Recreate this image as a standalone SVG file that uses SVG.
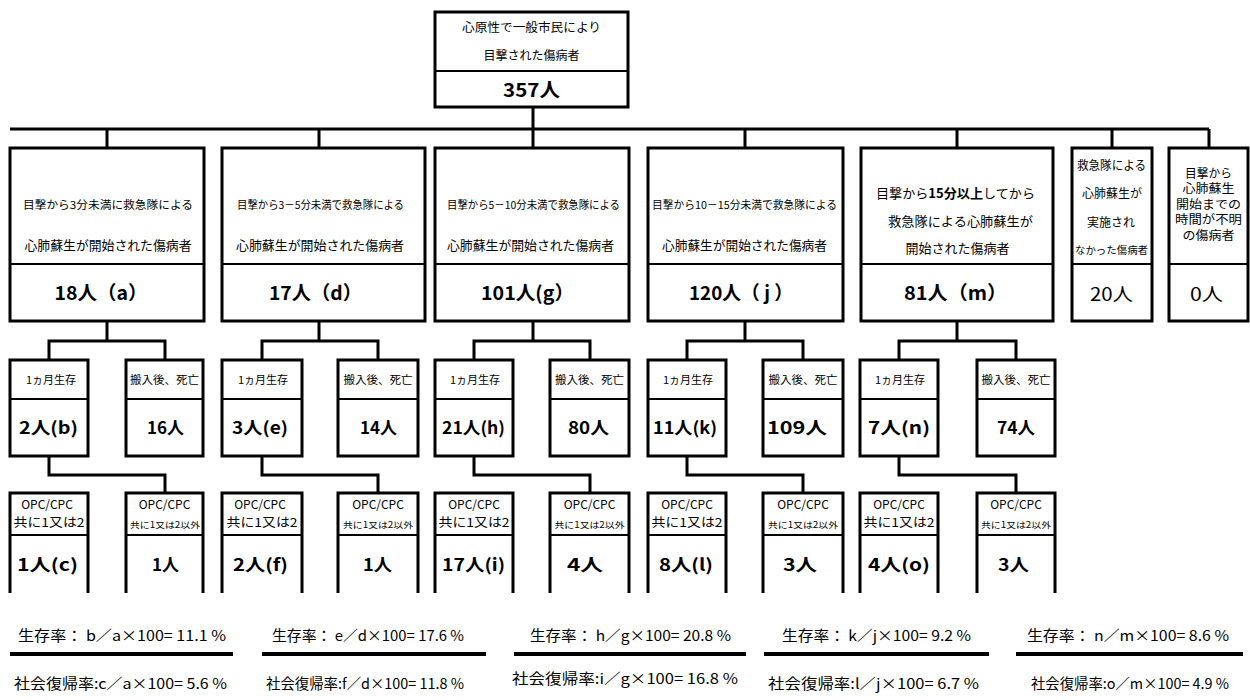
<svg xmlns="http://www.w3.org/2000/svg" width="1250" height="700" viewBox="0 0 1250 700">
<style>
text{font-family:"Noto Sans CJK JP","Noto Sans",sans-serif;fill:#000;text-anchor:middle}
.box{fill:#fff;stroke:#000;stroke-width:3}
.div{stroke:#000;stroke-width:2;fill:none}
.con{stroke:#000;stroke-width:3;fill:none}
.bar{stroke:#000;stroke-width:4;fill:none}
.t11{font-size:11px}
.t12{font-size:12px}
.t13{font-size:13px}
.t9{font-size:8.5px}
.n18{font-size:19px;font-weight:bold}
.n16{font-size:17px;font-weight:bold}
.n18r{font-size:18px}
.st{font-size:14.5px;text-anchor:start}
.u{font-size:12px}
</style>
<rect width="1250" height="700" fill="#fff"/>

<g id="connectors">
<path class="con" d="M533,107 V129 M10,129 H1209 M107,129 V148 M319,129 V148 M533,129 V148 M745,129 V148 M957,129 V148 M1112,129 V148 M1209,129 V148"/>
<path class="con" d="M107,321 V341 M49,360 V341 H165 V360 M49,456 V475 H165 V493"/>
<path class="con" d="M319,321 V341 M262,360 V341 H378 V360 M262,456 V475 H378 V493"/>
<path class="con" d="M533,321 V341 M474,360 V341 H590 V360 M474,456 V475 H590 V493"/>
<path class="con" d="M745,321 V341 M687,360 V341 H803 V360 M687,456 V475 H803 V493"/>
<path class="con" d="M957,321 V341 M899,360 V341 H1016 V360 M899,456 V475 H1016 V493"/>
</g>

<g id="root">
<rect class="box" x="435" y="12" width="193" height="95"/>
<line class="div" x1="435" y1="71" x2="628" y2="71"/>
<text class="t12" x="531.5" y="31.5" textLength="139" lengthAdjust="spacingAndGlyphs">心原性で一般市民により</text>
<text class="t12" x="531.5" y="59.5">目撃された傷病者</text>
<text class="n18" x="531.5" y="97" font-size="20" textLength="57" lengthAdjust="spacingAndGlyphs">357人</text>
</g>

<g id="col-a">
<rect class="box" x="10" y="148" width="194" height="173"/>
<line class="div" x1="10" y1="264" x2="204" y2="264"/>
<text class="t11" x="108" y="209" textLength="170" lengthAdjust="spacingAndGlyphs">目撃から3分未満に救急隊による</text>
<text class="t13" x="108" y="249.5" textLength="167" lengthAdjust="spacingAndGlyphs">心肺蘇生が開始された傷病者</text>
<text class="n18" x="101" y="300" textLength="93" lengthAdjust="spacingAndGlyphs">18人（a）</text>
</g>
<g id="col-d">
<rect class="box" x="222" y="148" width="203" height="173"/>
<line class="div" x1="222" y1="264" x2="425" y2="264"/>
<text class="t11" x="320.5" y="209" textLength="167" lengthAdjust="spacingAndGlyphs">目撃から3－5分未満で救急隊による</text>
<text class="t13" x="320" y="249.5" textLength="168" lengthAdjust="spacingAndGlyphs">心肺蘇生が開始された傷病者</text>
<text class="n18" x="315.5" y="300" textLength="93" lengthAdjust="spacingAndGlyphs">17人（d）</text>
</g>
<g id="col-g">
<rect class="box" x="435" y="148" width="194" height="173"/>
<line class="div" x1="435" y1="264" x2="629" y2="264"/>
<text class="t11" x="533.5" y="209" textLength="173" lengthAdjust="spacingAndGlyphs">目撃から5－10分未満で救急隊による</text>
<text class="t13" x="530.5" y="249.5" textLength="167" lengthAdjust="spacingAndGlyphs">心肺蘇生が開始された傷病者</text>
<text class="n18" x="527.5" y="300" textLength="93" lengthAdjust="spacingAndGlyphs">101人(g）</text>
</g>
<g id="col-j">
<rect class="box" x="648" y="148" width="195" height="173"/>
<line class="div" x1="648" y1="264" x2="843" y2="264"/>
<text class="t11" x="744.5" y="209" textLength="185" lengthAdjust="spacingAndGlyphs">目撃から10－15分未満で救急隊による</text>
<text class="t13" x="744.5" y="249.5" textLength="165" lengthAdjust="spacingAndGlyphs">心肺蘇生が開始された傷病者</text>
<text class="n18" x="741" y="300" textLength="104" lengthAdjust="spacingAndGlyphs">120人（ j ）</text>
</g>
<g id="col-m">
<rect class="box" x="861" y="148" width="192" height="173"/>
<line class="div" x1="861" y1="264" x2="1053" y2="264"/>
<text class="t13" x="955.5" y="197.5" textLength="159" lengthAdjust="spacingAndGlyphs">目撃から<tspan font-weight="bold">15分以上</tspan>してから</text>
<text class="t13" x="960.5" y="225.5" textLength="145" lengthAdjust="spacingAndGlyphs">救急隊による心肺蘇生が</text>
<text class="t13" x="957.5" y="252.5">開始された傷病者</text>
<text class="n18" x="955.5" y="300" textLength="103" lengthAdjust="spacingAndGlyphs">81人（m）</text>
</g>
<g id="col-none">
<rect class="box" x="1072" y="148" width="80" height="173"/>
<line class="div" x1="1072" y1="264" x2="1152" y2="264"/>
<text class="t12" x="1111.5" y="169.5" textLength="69" lengthAdjust="spacingAndGlyphs">救急隊による</text>
<text class="t12" x="1112" y="197.5">心肺蘇生が</text>
<text class="t12" x="1111" y="226.5">実施され</text>
<text x="1111.5" y="253.5" font-size="10" textLength="73" lengthAdjust="spacingAndGlyphs">なかった傷病者</text>
<text class="n18r" x="1111.5" y="301" textLength="43" lengthAdjust="spacingAndGlyphs">20人</text>
</g>
<g id="col-unknown">
<rect class="box" x="1169" y="148" width="79" height="173"/>
<line class="div" x1="1169" y1="264" x2="1248" y2="264"/>
<text class="u" x="1208.5" y="177.5" textLength="47" lengthAdjust="spacingAndGlyphs">目撃から</text>
<text class="u" x="1208.5" y="193" textLength="52" lengthAdjust="spacingAndGlyphs">心肺蘇生</text>
<text class="u" x="1208.5" y="208.5" textLength="65" lengthAdjust="spacingAndGlyphs">開始までの</text>
<text class="u" x="1208.5" y="224" textLength="67" lengthAdjust="spacingAndGlyphs">時間が不明</text>
<text class="u" x="1208.5" y="239.5" textLength="52" lengthAdjust="spacingAndGlyphs">の傷病者</text>
<text class="n18r" x="1206.5" y="301" textLength="33" lengthAdjust="spacingAndGlyphs">0人</text>
</g>

<g id="sub-a">
<g id="a-surv"><rect class="box" x="10" y="360" width="78" height="96"/><line class="div" x1="10" y1="399" x2="88" y2="399"/>
<text class="t11" x="51" y="384">1ヵ月生存</text><text class="n16" x="48.5" y="434" textLength="59" lengthAdjust="spacingAndGlyphs">2人(b)</text></g>
<g id="a-dead"><rect class="box" x="126" y="360" width="77" height="96"/><line class="div" x1="126" y1="399" x2="203" y2="399"/>
<text class="t11" x="164.5" y="384" textLength="69" lengthAdjust="spacingAndGlyphs">搬入後、死亡</text><text class="n16" x="165.5" y="434" textLength="37" lengthAdjust="spacingAndGlyphs">16人</text></g>
<g id="a-good"><path class="con" d="M10,593 V493 H88 V593"/><line class="div" x1="10" y1="535" x2="88" y2="535"/>
<text class="t12" x="47" y="509">OPC/CPC</text><text class="t12" x="49" y="527" textLength="71" lengthAdjust="spacingAndGlyphs">共に1又は2</text><text class="n16" x="47.5" y="571" textLength="61" lengthAdjust="spacingAndGlyphs">1人(c)</text></g>
<g id="a-other"><path class="con" d="M126,593 V493 H203 V593"/><line class="div" x1="126" y1="535" x2="203" y2="535"/>
<text class="t12" x="164.5" y="509">OPC/CPC</text><text class="t9" x="165" y="528" textLength="70" lengthAdjust="spacingAndGlyphs">共に1又は2以外</text><text class="n16" x="165.5" y="571" textLength="27" lengthAdjust="spacingAndGlyphs">1人</text></g>
</g>

<g id="sub-d">
<g id="d-surv"><rect class="box" x="222" y="360" width="80" height="96"/><line class="div" x1="222" y1="399" x2="302" y2="399"/>
<text class="t11" x="263" y="384">1ヵ月生存</text><text class="n16" x="260" y="434" textLength="56" lengthAdjust="spacingAndGlyphs">3人(e)</text></g>
<g id="d-dead"><rect class="box" x="338" y="360" width="80" height="96"/><line class="div" x1="338" y1="399" x2="418" y2="399"/>
<text class="t11" x="378" y="384" textLength="69" lengthAdjust="spacingAndGlyphs">搬入後、死亡</text><text class="n16" x="378.5" y="434" textLength="37" lengthAdjust="spacingAndGlyphs">14人</text></g>
<g id="d-good"><path class="con" d="M222,593 V493 H302 V593"/><line class="div" x1="222" y1="535" x2="302" y2="535"/>
<text class="t12" x="260" y="509">OPC/CPC</text><text class="t12" x="262" y="527" textLength="71" lengthAdjust="spacingAndGlyphs">共に1又は2</text><text class="n16" x="260.5" y="571" textLength="55" lengthAdjust="spacingAndGlyphs">2人(f)</text></g>
<g id="d-other"><path class="con" d="M338,593 V493 H418 V593"/><line class="div" x1="338" y1="535" x2="418" y2="535"/>
<text class="t12" x="378" y="509">OPC/CPC</text><text class="t9" x="378" y="528" textLength="70" lengthAdjust="spacingAndGlyphs">共に1又は2以外</text><text class="n16" x="377.5" y="571" textLength="29" lengthAdjust="spacingAndGlyphs">1人</text></g>
</g>

<g id="sub-g">
<g id="g-surv"><rect class="box" x="435" y="360" width="78" height="96"/><line class="div" x1="435" y1="399" x2="513" y2="399"/>
<text class="t11" x="475" y="384">1ヵ月生存</text><text class="n16" x="473.5" y="434" textLength="63" lengthAdjust="spacingAndGlyphs">21人(h)</text></g>
<g id="g-dead"><rect class="box" x="550" y="360" width="79" height="96"/><line class="div" x1="550" y1="399" x2="629" y2="399"/>
<text class="t11" x="589.5" y="384" textLength="69" lengthAdjust="spacingAndGlyphs">搬入後、死亡</text><text class="n16" x="588.5" y="434" textLength="41" lengthAdjust="spacingAndGlyphs">80人</text></g>
<g id="g-good"><path class="con" d="M435,593 V493 H513 V593"/><line class="div" x1="435" y1="535" x2="513" y2="535"/>
<text class="t12" x="474" y="509">OPC/CPC</text><text class="t12" x="474" y="527" textLength="71" lengthAdjust="spacingAndGlyphs">共に1又は2</text><text class="n16" x="473.5" y="571" textLength="63" lengthAdjust="spacingAndGlyphs">17人(i)</text></g>
<g id="g-other"><path class="con" d="M550,593 V493 H629 V593"/><line class="div" x1="550" y1="535" x2="629" y2="535"/>
<text class="t12" x="589.5" y="509">OPC/CPC</text><text class="t9" x="589.5" y="528" textLength="70" lengthAdjust="spacingAndGlyphs">共に1又は2以外</text><text class="n16" x="585" y="571" textLength="36" lengthAdjust="spacingAndGlyphs">4人</text></g>
</g>

<g id="sub-j">
<g id="j-surv"><rect class="box" x="648" y="360" width="78" height="96"/><line class="div" x1="648" y1="399" x2="726" y2="399"/>
<text class="t11" x="688" y="384">1ヵ月生存</text><text class="n16" x="685" y="434" textLength="64" lengthAdjust="spacingAndGlyphs">11人(k)</text></g>
<g id="j-dead"><rect class="box" x="763" y="360" width="80" height="96"/><line class="div" x1="763" y1="399" x2="843" y2="399"/>
<text class="t11" x="803" y="384" textLength="69" lengthAdjust="spacingAndGlyphs">搬入後、死亡</text><text class="n16" x="797" y="434" textLength="60" lengthAdjust="spacingAndGlyphs">109人</text></g>
<g id="j-good"><path class="con" d="M648,593 V493 H726 V593"/><line class="div" x1="648" y1="535" x2="726" y2="535"/>
<text class="t12" x="687" y="509">OPC/CPC</text><text class="t12" x="687" y="527" textLength="71" lengthAdjust="spacingAndGlyphs">共に1又は2</text><text class="n16" x="686" y="571" textLength="54" lengthAdjust="spacingAndGlyphs">8人(l)</text></g>
<g id="j-other"><path class="con" d="M763,593 V493 H843 V593"/><line class="div" x1="763" y1="535" x2="843" y2="535"/>
<text class="t12" x="803" y="509">OPC/CPC</text><text class="t9" x="803" y="528" textLength="70" lengthAdjust="spacingAndGlyphs">共に1又は2以外</text><text class="n16" x="800" y="571" textLength="34" lengthAdjust="spacingAndGlyphs">3人</text></g>
</g>

<g id="sub-m">
<g id="m-surv"><rect class="box" x="860" y="360" width="78" height="96"/><line class="div" x1="860" y1="399" x2="938" y2="399"/>
<text class="t11" x="900" y="384">1ヵ月生存</text><text class="n16" x="899" y="434" textLength="62" lengthAdjust="spacingAndGlyphs">7人(n)</text></g>
<g id="m-dead"><rect class="box" x="977" y="360" width="78" height="96"/><line class="div" x1="977" y1="399" x2="1055" y2="399"/>
<text class="t11" x="1016" y="384" textLength="69" lengthAdjust="spacingAndGlyphs">搬入後、死亡</text><text class="n16" x="1016" y="434" textLength="38" lengthAdjust="spacingAndGlyphs">74人</text></g>
<g id="m-good"><path class="con" d="M860,593 V493 H938 V593"/><line class="div" x1="860" y1="535" x2="938" y2="535"/>
<text class="t12" x="899" y="509">OPC/CPC</text><text class="t12" x="899" y="527" textLength="71" lengthAdjust="spacingAndGlyphs">共に1又は2</text><text class="n16" x="899" y="571" textLength="62" lengthAdjust="spacingAndGlyphs">4人(o)</text></g>
<g id="m-other"><path class="con" d="M977,593 V493 H1055 V593"/><line class="div" x1="977" y1="535" x2="1055" y2="535"/>
<text class="t12" x="1016" y="509">OPC/CPC</text><text class="t9" x="1016" y="528" textLength="70" lengthAdjust="spacingAndGlyphs">共に1又は2以外</text><text class="n16" x="1013.5" y="571" textLength="31" lengthAdjust="spacingAndGlyphs">3人</text></g>
</g>

<g id="stats">
<text class="st" x="18" y="641" textLength="208" lengthAdjust="spacingAndGlyphs">生存率： b／a×100= 11.1 %</text>
<line class="bar" x1="10" y1="654" x2="233" y2="654"/>
<text class="st" x="14" y="689" textLength="213" lengthAdjust="spacingAndGlyphs">社会復帰率:c／a×100= 5.6 %</text>

<text class="st" x="272" y="641" textLength="192" lengthAdjust="spacingAndGlyphs">生存率： e／d×100= 17.6 %</text>
<line class="bar" x1="262" y1="654" x2="486" y2="654"/>
<text class="st" x="266" y="689" textLength="198" lengthAdjust="spacingAndGlyphs">社会復帰率:f／d×100= 11.8 %</text>

<text class="st" x="530" y="641" textLength="201" lengthAdjust="spacingAndGlyphs">生存率： h／g×100= 20.8 %</text>
<line class="bar" x1="514" y1="654" x2="746" y2="654"/>
<text class="st" x="512" y="684" textLength="226" lengthAdjust="spacingAndGlyphs">社会復帰率:i／g×100= 16.8 %</text>

<text class="st" x="782" y="641" textLength="189" lengthAdjust="spacingAndGlyphs">生存率： k／j×100= 9.2 %</text>
<line class="bar" x1="764" y1="654" x2="989" y2="654"/>
<text class="st" x="768" y="689" textLength="211" lengthAdjust="spacingAndGlyphs">社会復帰率:l／j×100=  6.7 %</text>

<text class="st" x="1027" y="641" textLength="202" lengthAdjust="spacingAndGlyphs">生存率： n／m×100= 8.6 %</text>
<line class="bar" x1="1016" y1="654" x2="1243" y2="654"/>
<text class="st" x="1031" y="689" textLength="198" lengthAdjust="spacingAndGlyphs">社会復帰率:o／m×100= 4.9 %</text>
</g>
</svg>
